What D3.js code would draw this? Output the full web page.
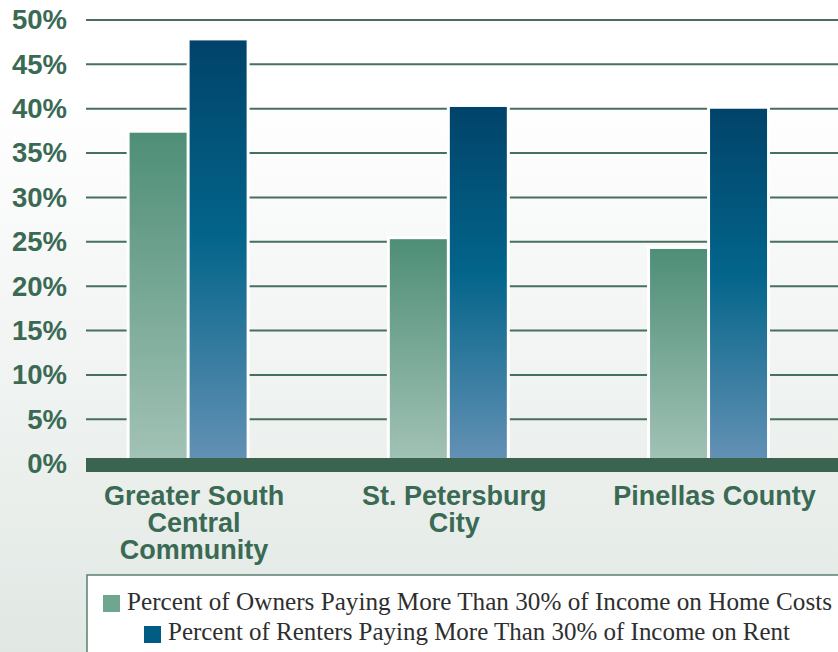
<!DOCTYPE html>
<html>
<head>
<meta charset="utf-8">
<script src="https://cdn.jsdelivr.net/npm/d3@7"></script>
<style>
  html, body { margin: 0; padding: 0; background: #fff; }
  svg { display: block; }
</style>
</head>
<body>
<svg id="chart" width="838" height="652"></svg>
<script>
// ---- Data ----
const categories = [
  ["Greater South", "Central", "Community"],
  ["St. Petersburg", "City"],
  ["Pinellas County"]
];
const categoryKeys = ["Greater South Central Community", "St. Petersburg City", "Pinellas County"];
const seriesNames = [
  "Percent of Owners Paying More Than 30% of Income on Home Costs",
  "Percent of Renters Paying More Than 30% of Income on Rent"
];
const ownerValues = [37.3, 25.3, 24.2];
const renterValues = [47.7, 40.2, 40.0];
const yTicks = [0, 5, 10, 15, 20, 25, 30, 35, 40, 45, 50];

// ---- Setup ----
const W = 838, H = 652;
const svg = d3.select("#chart");
const defs = svg.append("defs");

const bgGrad = defs.append("linearGradient").attr("id", "bg")
  .attr("gradientUnits", "userSpaceOnUse").attr("x1", 0).attr("y1", 0).attr("x2", 0).attr("y2", H);
bgGrad.append("stop").attr("offset", "0.15").attr("stop-color", "#ffffff");
bgGrad.append("stop").attr("offset", "1").attr("stop-color", "#e1e8e4");

const gGreen = defs.append("linearGradient").attr("id", "gGreen")
  .attr("x1", 0).attr("y1", 0).attr("x2", 0).attr("y2", 1);
gGreen.append("stop").attr("offset", "0").attr("stop-color", "#4e8e77");
gGreen.append("stop").attr("offset", "1").attr("stop-color", "#a3c3b7");

const gBlue = defs.append("linearGradient").attr("id", "gBlue")
  .attr("x1", 0).attr("y1", 0).attr("x2", 0).attr("y2", 1);
gBlue.append("stop").attr("offset", "0").attr("stop-color", "#01436a");
gBlue.append("stop").attr("offset", "0.46").attr("stop-color", "#03648a");
gBlue.append("stop").attr("offset", "1").attr("stop-color", "#6592b5");

svg.append("rect").attr("x", 0).attr("y", 0).attr("width", W).attr("height", H).attr("fill", "url(#bg)");

// ---- Scales ----
const y = d3.scaleLinear().domain([0, 50]).range([463.7, 20]);
const x0 = d3.scaleBand().domain(categoryKeys).range([58, 838.65]).padding(0);
const x1 = d3.scaleBand().domain(["owners", "renters"]).range([0, 117]).paddingInner(0.05).paddingOuter(0);
const groupOffset = (x0.bandwidth() - 117) / 2;

const textColor = "#3a6a53";
const plotLeft = 86;

// ---- Gridlines ----
svg.append("g").selectAll("line")
  .data(yTicks.filter(d => d > 0))
  .join("line")
  .attr("x1", plotLeft).attr("x2", W)
  .attr("y1", d => y(d)).attr("y2", d => y(d))
  .attr("stroke", "#46705d").attr("stroke-width", 2);

// ---- Bars ----
const rows = categoryKeys.map((k, i) => ({ key: k, values: [
  { s: "owners", v: ownerValues[i] },
  { s: "renters", v: renterValues[i] }
]}));

const groups = svg.append("g").selectAll("g")
  .data(rows).join("g")
  .attr("transform", d => `translate(${x0(d.key) + groupOffset},0)`);

// white outline
groups.selectAll("rect.outline").data(d => d.values).join("rect")
  .attr("class", "outline")
  .attr("x", d => x1(d.s) - 3)
  .attr("y", d => y(d.v) - 3)
  .attr("width", x1.bandwidth() + 6)
  .attr("height", d => y(0) - y(d.v) + 3)
  .attr("fill", "#ffffff");

groups.selectAll("rect.bar").data(d => d.values).join("rect")
  .attr("class", "bar")
  .attr("x", d => x1(d.s))
  .attr("y", d => y(d.v))
  .attr("width", x1.bandwidth())
  .attr("height", d => y(0) - y(d.v))
  .attr("fill", d => d.s === "owners" ? "url(#gGreen)" : "url(#gBlue)");

// ---- Zero axis bar ----
svg.append("rect")
  .attr("x", plotLeft).attr("y", y(0) - 5.7)
  .attr("width", W - plotLeft).attr("height", 14)
  .attr("fill", "#3a6450");

// ---- Y axis labels ----
const yAxis = svg.append("g")
  .attr("transform", `translate(${plotLeft},0)`)
  .call(d3.axisLeft(y).tickValues(yTicks).tickSize(0).tickPadding(19).tickFormat(d => d + "%"));
yAxis.select(".domain").remove();
yAxis.selectAll("text")
  .attr("fill", textColor)
  .style("font-family", "'Liberation Sans', Arial, sans-serif")
  .style("font-weight", "bold")
  .style("font-size", "27.5px");

// ---- X axis labels ----
const xAxis = svg.append("g")
  .attr("transform", `translate(0,${y(0)})`)
  .call(d3.axisBottom(x0).tickSize(0).tickFormat(""));
xAxis.select(".domain").remove();
xAxis.selectAll(".tick").each(function(d, i) {
  const t = d3.select(this).select("text");
  t.attr("y", 0).attr("dy", null)
    .attr("fill", textColor)
    .attr("text-anchor", "middle")
    .style("font-family", "'Liberation Sans', Arial, sans-serif")
    .style("font-weight", "bold")
    .style("font-size", "27px");
  t.selectAll("tspan").data(categories[i]).join("tspan")
    .attr("x", 6)
    .attr("y", (line, j) => 41 + j * 27)
    .text(line => line);
});

// ---- Legend ----
const legend = svg.append("g");
legend.append("rect")
  .attr("x", 87).attr("y", 575).attr("width", 800).attr("height", 120)
  .attr("fill", "#ffffff").attr("stroke", "#5b7f6f").attr("stroke-width", 1.5);

const legendItems = [
  { name: seriesNames[0], color: "#6fa690", sx: 103, sy: 595, tx: 127, ty: 610, len: 705 },
  { name: seriesNames[1], color: "#005c83", sx: 144, sy: 626, tx: 168, ty: 640, len: 622 }
];
legend.selectAll("rect.sw").data(legendItems).join("rect")
  .attr("class", "sw")
  .attr("x", d => d.sx).attr("y", d => d.sy)
  .attr("width", 17).attr("height", 17)
  .attr("fill", d => d.color);
legend.selectAll("text").data(legendItems).join("text")
  .attr("x", d => d.tx).attr("y", d => d.ty)
  .attr("textLength", d => d.len)
  .attr("lengthAdjust", "spacingAndGlyphs")
  .attr("fill", "#2e2e2e")
  .style("font-family", "'Liberation Serif', 'Times New Roman', serif")
  .style("font-size", "26px")
  .text(d => d.name);
</script>
</body>
</html>
